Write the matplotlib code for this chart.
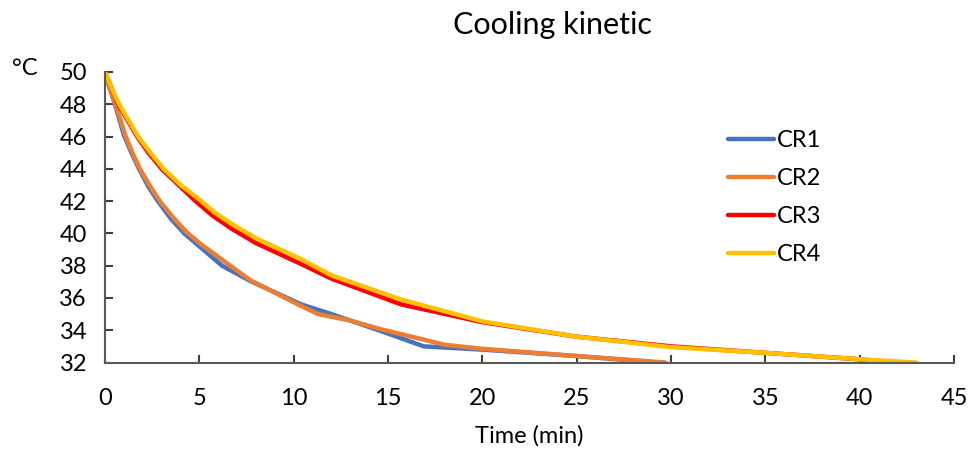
import matplotlib
matplotlib.use('Agg')
import matplotlib.pyplot as plt

plt.rcParams['font.family'] = ['Lato', 'DejaVu Sans']

# Datos (tiempo en min, temperatura en °C)
t_cr1 = [0, 0.25, 0.5, 1.0, 1.4, 1.8, 2.3, 2.8, 3.5, 4.2, 5.0, 6.2, 7.7, 10.4, 12.0, 14.5, 16.9, 20.0, 25.0, 29.3]
T_cr1 = [50, 49.0, 48.1, 46.1, 45.0, 44.0, 42.9, 42.0, 40.9, 40.0, 39.2, 38.0, 37.05, 35.6, 35.0, 34.0, 33.0, 32.8, 32.4, 32.0]

t_cr2 = [0, 0.25, 0.55, 1.1, 1.45, 1.85, 2.35, 2.9, 3.6, 4.3, 5.0, 6.4, 7.7, 10.4, 11.3, 13.0, 14.5, 18.0, 20.0, 25.0, 29.7]
T_cr2 = [50, 49.0, 48.0, 46.0, 45.0, 44.0, 43.0, 42.0, 41.0, 40.1, 39.4, 38.2, 37.1, 35.5, 35.0, 34.6, 34.1, 33.1, 32.85, 32.4, 32.0]

t_cr3 = [0, 0.35, 0.7, 1.2, 1.7, 2.3, 3.0, 3.9, 4.8, 5.7, 6.7, 8.0, 10.4, 12.0, 15.7, 20.0, 25.0, 30.0, 35.0, 40.0, 41.8]
T_cr3 = [50, 49.0, 48.0, 47.0, 46.0, 45.0, 44.0, 43.0, 42.0, 41.1, 40.3, 39.4, 38.1, 37.2, 35.6, 34.5, 33.6, 33.0, 32.6, 32.2, 32.0]

t_cr4 = [0, 0.35, 0.75, 1.25, 1.75, 2.4, 3.1, 4.0, 5.0, 5.8, 6.7, 8.0, 10.4, 12.0, 15.7, 20.0, 25.0, 30.0, 35.0, 40.0, 43.0]
T_cr4 = [50, 49.0, 48.0, 47.0, 46.0, 45.0, 44.0, 43.0, 42.1, 41.3, 40.6, 39.7, 38.4, 37.4, 35.9, 34.55, 33.6, 32.95, 32.6, 32.2, 32.0]

series = [('CR1', t_cr1, T_cr1, '#4472C4'),
          ('CR2', t_cr2, T_cr2, '#ED7D31'),
          ('CR3', t_cr3, T_cr3, '#FF0000'),
          ('CR4', t_cr4, T_cr4, '#FFC000')]

fig = plt.figure(figsize=(9.74, 4.59), dpi=100)
ax = fig.add_axes([0.1078, 0.2102, 0.8717, 0.633])

for nombre, t, T, color in series:
    ax.plot(t, T, color=color, linewidth=3.2, label=nombre, solid_capstyle='round')

ax.set_xlim(0, 45)
ax.set_ylim(32, 50)
ax.set_xticks(range(0, 46, 5))
ax.set_yticks(range(32, 51, 2))

for lado in ['top', 'right']:
    ax.spines[lado].set_visible(False)
for lado in ['left', 'bottom']:
    ax.spines[lado].set_color('#595959')
    ax.spines[lado].set_linewidth(1.5)

ax.tick_params(direction='in', length=6, width=1.5, color='#404040',
               labelsize=17, labelcolor='#000000')
ax.tick_params(axis='y', pad=13)
ax.tick_params(axis='x', pad=18)

ax.set_xlabel('Time (min)', fontsize=17, labelpad=12)
fig.text(0.567, 0.975, 'Cooling kinetic', ha='center', va='top', fontsize=22)
fig.text(0.012, 0.85, '°C', ha='left', va='center', fontsize=17)

ax.legend(loc='upper left', bbox_to_anchor=(0.72, 0.84), frameon=False,
          fontsize=17, handlelength=1.95, handletextpad=0.12, labelspacing=0.72,
          borderpad=0)

plt.savefig('out.png', dpi=100)
